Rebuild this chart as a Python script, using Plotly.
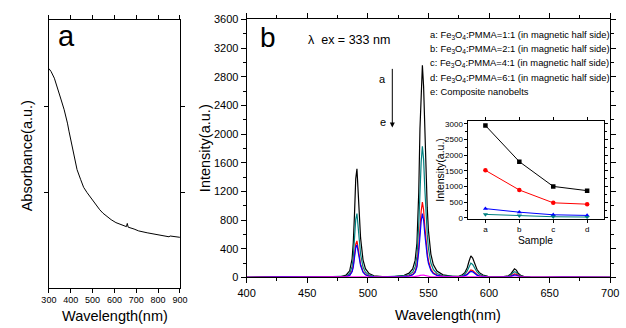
import plotly.graph_objects as go

# ---------------- data: panel a (absorbance) ----------------
abs_wl = [300, 310, 325, 340, 355, 370, 377, 385, 392, 400, 407, 418, 429, 445, 459, 475,
          489, 503, 518, 533, 548, 563, 585, 607, 637, 655, 659, 663, 690, 711, 750, 785,
          820, 845, 850, 855, 875, 900]
abs_val = [0.819, 0.808, 0.783, 0.748, 0.705, 0.665, 0.645, 0.615, 0.585, 0.555, 0.525, 0.480,
           0.441, 0.405, 0.375, 0.355, 0.339, 0.321, 0.305, 0.291, 0.278, 0.267, 0.254, 0.243,
           0.233, 0.228, 0.240, 0.226, 0.219, 0.212, 0.205, 0.200, 0.196, 0.193, 0.190, 0.193,
           0.190, 0.188]

# ---------------- data: panel b (emission spectra) ----------------
em_wl = [400, 430, 460, 478,
         482, 485, 487, 488, 489, 490, 491, 492, 493, 494, 496, 498, 501, 505,
         512, 522, 530,
         534, 537, 539, 540.5, 542, 543, 544, 545, 546, 547, 548, 549, 550, 552, 554, 557, 562,
         570,
         575, 578, 580, 582, 583.5, 585, 586.5, 588, 590, 592, 595, 599, 605,
         612, 616, 618, 619.5, 621, 622.5, 624, 626, 629, 634,
         645, 660, 680, 700]

spec_a = [0, 12, 6, 10,
          31, 92, 260, 490, 887, 1377, 1515, 1224, 842, 551, 245, 122, 54, 23,
          10, 12, 30,
          59, 118, 237, 474, 1184, 2072, 2605, 2960, 2664, 2013, 1421, 977, 651, 326, 178, 89, 36,
          15,
          15, 36, 66, 135, 225, 300, 270, 195, 114, 66, 33, 15, 6,
          10, 22, 48, 90, 120, 102, 60, 30, 12, 5,
          4, 6, 3, 0]
spec_b = [0, 10, 5, 8,
          18, 54, 153, 288, 522, 810, 891, 720, 495, 324, 144, 72, 32, 14,
          8, 10, 20,
          37, 73, 146, 293, 732, 1281, 1610, 1830, 1647, 1244, 878, 604, 403, 201, 110, 55, 22,
          10,
          10, 24, 44, 90, 150, 200, 180, 130, 76, 44, 22, 10, 4,
          6, 14, 32, 60, 80, 68, 40, 20, 8, 3,
          3, 5, 2, 0]
spec_c = [0, 8, 4, 6,
          10, 31, 88, 165, 299, 464, 510, 412, 283, 185, 82, 41, 18, 8,
          5, 6, 12,
          21, 42, 84, 168, 420, 735, 924, 1050, 945, 714, 504, 347, 231, 116, 63, 32, 13,
          6,
          5, 13, 23, 47, 79, 105, 95, 68, 40, 23, 12, 5, 2,
          3, 9, 20, 38, 50, 43, 25, 13, 5, 2,
          2, 4, 2, 0]
spec_d = [0, 7, 3, 5,
          9, 28, 78, 147, 267, 414, 455, 368, 253, 166, 74, 37, 16, 7,
          4, 5, 10,
          18, 36, 71, 142, 356, 623, 783, 890, 801, 605, 427, 294, 196, 98, 53, 27, 11,
          5,
          4, 10, 19, 38, 64, 85, 77, 55, 32, 19, 9, 4, 2,
          2, 6, 14, 26, 35, 30, 18, 9, 4, 1,
          2, 3, 1, 0]
spec_e = [2, 4, 3, 4,
          5, 6, 8, 10, 12, 14, 15, 13, 11, 9, 7, 6, 5, 4,
          4, 4, 5,
          6, 8, 10, 14, 20, 27, 32, 35, 33, 28, 22, 17, 13, 9, 7, 6, 5,
          4,
          4, 4, 5, 5, 6, 6, 6, 5, 5, 4, 4, 4, 3,
          3, 3, 4, 4, 4, 4, 3, 3, 3, 3,
          3, 3, 2, 2]

legend_lines = [
    "a: Fe<sub>3</sub>O<sub>4</sub>:PMMA=1:1 (in magnetic half side)",
    "b: Fe<sub>3</sub>O<sub>4</sub>:PMMA=2:1 (in magnetic half side)",
    "c: Fe<sub>3</sub>O<sub>4</sub>:PMMA=4:1 (in magnetic half side)",
    "d: Fe<sub>3</sub>O<sub>4</sub>:PMMA=6:1 (in magnetic half side)",
    "e: Composite nanobelts",
]

# ---------------- data: inset (peak intensity vs sample) ----------------
samples = ["a", "b", "c", "d"]
peak_545 = [2945, 1794, 1006, 871]
peak_490 = [1517, 892, 483, 440]
peak_585 = [298, 185, 102, 82]
peak_620 = [115, 75, 40, 30]

# ---------------- figure ----------------
W, H = 626, 328
FONT = "Arial, 'Liberation Sans', sans-serif"


def fx(x):
    return x / W


def fy(y):
    return 1 - y / H


fig = go.Figure()

fig.add_trace(go.Scatter(x=abs_wl, y=abs_val, mode="lines", line=dict(color="black", width=1),
                         xaxis="x", yaxis="y", showlegend=False))

spec_series = [(spec_a, "#000000"), (spec_b, "#008080"), (spec_c, "#ff0000"),
               (spec_d, "#0000ff"), (spec_e, "#ff00ff")]
for vals, col in spec_series:
    fig.add_trace(go.Scatter(x=em_wl, y=vals, mode="lines", line=dict(color=col, width=1.2),
                             xaxis="x2", yaxis="y2", showlegend=False))

inset_series = [(peak_545, "#000000", "square"), (peak_490, "#ff0000", "circle"),
                (peak_585, "#0000ff", "triangle-up"), (peak_620, "#008080", "triangle-down")]
for vals, col, sym in inset_series:
    fig.add_trace(go.Scatter(x=samples, y=vals, mode="lines+markers",
                             line=dict(color=col, width=1),
                             marker=dict(color=col, symbol=sym, size=4.5),
                             xaxis="x3", yaxis="y3", showlegend=False))

axis_common = dict(showline=True, linecolor="black", linewidth=1, mirror="ticks",
                   ticks="outside", tickcolor="black", showgrid=False, zeroline=False)

fig.update_layout(
    width=W, height=H,
    margin=dict(l=0, r=0, t=0, b=0),
    paper_bgcolor="white", plot_bgcolor="white",
    font=dict(family=FONT, color="black"),
    xaxis=dict(domain=[fx(41), fx(175.7)], range=[300, 900], tickvals=[300, 400, 500, 600, 700, 800, 900],
               ticklen=4, tickfont=dict(size=9), anchor="y", **axis_common),
    yaxis=dict(domain=[fy(292.3), fy(14.7)], range=[0, 1], tickvals=[0.357, 0.677],
               showticklabels=False, ticklen=4, anchor="x", **axis_common),
    xaxis2=dict(domain=[fx(244.3), fx(618)], range=[400, 700], dtick=50, tick0=400,
                ticklen=5, tickfont=dict(size=11), anchor="y2",
                minor=dict(dtick=25, ticklen=3, ticks="outside", tickcolor="black"),
                **axis_common),
    yaxis2=dict(domain=[fy(281.7), fy(14)], range=[0, 3600], dtick=400, tick0=0,
                ticklen=5, tickfont=dict(size=11), anchor="x2",
                minor=dict(dtick=200, ticklen=3, ticks="outside", tickcolor="black"),
                **axis_common),
    xaxis3=dict(domain=[fx(472.3), fx(611.7)], range=[-0.5, 3.5], type="category",
                ticklen=3, tickfont=dict(size=8), anchor="y3", **axis_common),
    yaxis3=dict(domain=[fy(220.7), fy(119)], range=[-20, 3100], dtick=500, tick0=0,
                ticklen=3, tickfont=dict(size=8), anchor="x3",
                minor=dict(dtick=250, ticklen=2, ticks="outside", tickcolor="black"),
                **axis_common),
)

ann = []


def text(x, y, s, size, xanchor="center", angle=0):
    ann.append(dict(x=fx(x), y=fy(y), xref="paper", yref="paper", text=s, showarrow=False,
                    xanchor=xanchor, yanchor="middle", textangle=angle,
                    font=dict(size=size, family=FONT, color="black")))


# axis titles
text(109, 321.5, "Wavelength(nm)", 14.5)
text(18.5, 155, "Absorbance(a.u.)", 14.5, angle=-90)
text(451, 320.5, "Wavelength(nm)", 14.5)
text(201, 148, "Intensity(a.u.)", 14.5, angle=-90)
text(541, 243, "Sample", 10.3)
text(443, 170, "Intensity(a.u.)", 10.5, angle=-90)
# panel letters
text(59, 31, "a", 29)
text(266.5, 33, "b", 28)
text(305, 35, "λ  ex = 333 nm", 12.5, xanchor="left")
text(384, 76, "a", 11)
text(384, 120, "e", 11)
# legend lines
for i, s in enumerate(legend_lines):
    text(430.5, 30 + 14.8 * i, s, 9.4, xanchor="left")

# arrow a -> e
ann.append(dict(x=fx(394), y=fy(126), xref="paper", yref="paper", ax=0, ay=-60,
                axref="pixel", ayref="pixel", text="", showarrow=True,
                arrowhead=2, arrowsize=1, arrowwidth=1, arrowcolor="black"))

fig.update_layout(annotations=ann)
fig.write_html("out.html", config={"displayModeBar": False},
               post_script="document.body.style.margin='0';document.body.style.overflow='hidden';")
